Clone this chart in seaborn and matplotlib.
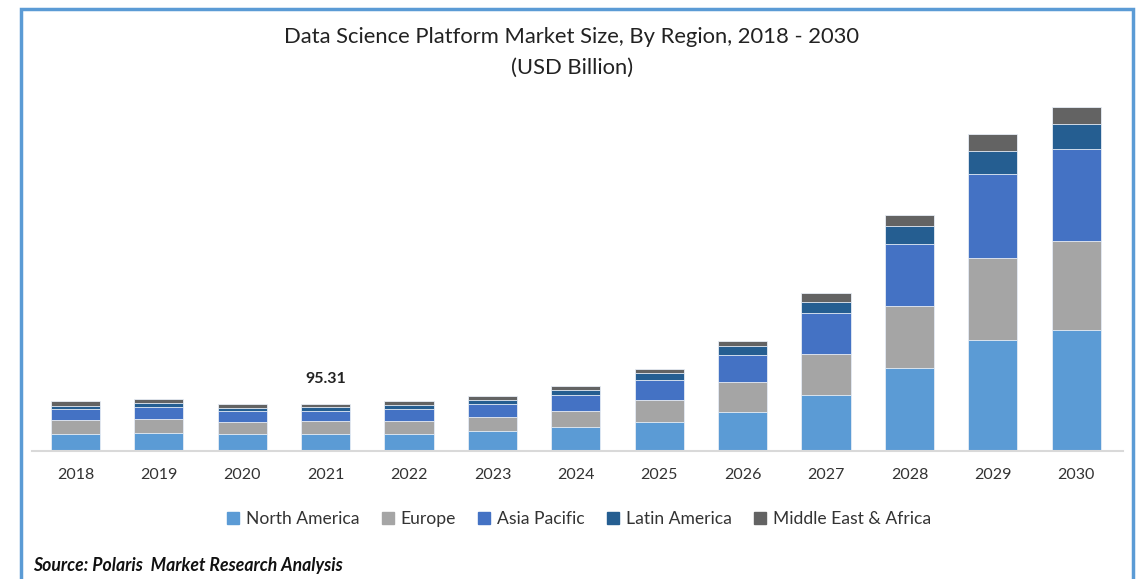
import numpy as np
import pandas as pd
import matplotlib
matplotlib.use('Agg')
import matplotlib.pyplot as plt
import seaborn as sns
from matplotlib.lines import Line2D
import matplotlib.patches as patches

# data, USD billion
years = ['2018', '2019', '2020', '2021', '2022', '2023', '2024',
         '2025', '2026', '2027', '2028', '2029', '2030']
north_america = [34.7, 36.7, 34.7, 34.7, 34.7, 40.2, 48.3, 58.5, 78.9, 113.6, 170.1, 226.4, 246.8]
europe = [29.2, 29.2, 23.9, 26.5, 26.5, 28.6, 33.9, 44.9, 61.2, 85.1, 126.5, 166.7, 181.0]
asia_pacific = [21.2, 23.9, 23.7, 21.0, 23.9, 27.1, 31.4, 42.0, 55.7, 82.2, 125.1, 172.6, 188.3]
latin_america = [7.3, 8.2, 6.1, 8.2, 8.2, 8.2, 10.8, 13.7, 18.4, 23.9, 38.1, 45.7, 51.0]
mea = [9.0, 8.2, 6.9, 4.91, 8.2, 7.5, 8.2, 8.2, 11.0, 18.4, 22.4, 34.7, 34.7]

regions = ['North America', 'Europe', 'Asia Pacific', 'Latin America', 'Middle East & Africa']
colors = ['#5B9BD5', '#A5A5A5', '#4472C4', '#255E91', '#636363']
label_year = '2021'

df = pd.DataFrame({'year': years, 'North America': north_america, 'Europe': europe,
                   'Asia Pacific': asia_pacific, 'Latin America': latin_america,
                   'Middle East & Africa': mea})

sns.set_theme(style='white')
plt.rcParams['font.family'] = ['Lato', 'DejaVu Sans']

W, H = 1144, 579
fig = plt.figure(figsize=(W / 100, H / 100), dpi=100)
ax = fig.add_axes([32 / W, (H - 451) / H, (1123 - 32) / W, (451 - 95) / H])

# stacked bars: draw cumulative totals from the top layer down
cum = df[regions].cumsum(axis=1)
for reg, col in reversed(list(zip(regions, colors))):
    sns.barplot(x=df['year'], y=cum[reg], color=col, saturation=1, width=0.59,
                edgecolor='#e8eef6', linewidth=0.6, ax=ax, zorder=2)

ax.set_xlim(-0.52, 12.56)
ax.set_ylim(0, 726)
ax.set_xlabel('')
ax.set_ylabel('')
ax.set_yticks([])
for s in ['top', 'right', 'left']:
    ax.spines[s].set_visible(False)
ax.spines['bottom'].set_color('#d9d9d9')
ax.spines['bottom'].set_linewidth(1.5)
ax.tick_params(axis='x', length=0, pad=12, labelsize=11.5, labelcolor='#333333')

i = years.index(label_year)
tot = cum.iloc[i][regions[-1]]
ax.annotate('%.2f' % tot, (i, tot), xytext=(0, 18), textcoords='offset points',
            ha='center', va='center', fontsize=11.5, fontweight='bold', color='#222222')

# titles
fig.text(0.5, 1 - 37 / H, 'Data Science Platform Market Size, By Region, 2018 - 2030',
         ha='center', va='center', fontsize=15.8, color='#222222')
fig.text(0.5, 1 - 68 / H, '(USD Billion)', ha='center', va='center', fontsize=15.8, color='#222222')

# legend
handles = [Line2D([0], [0], marker='s', lw=0, color=c, markersize=8, label=r)
           for r, c in zip(regions, colors)]
fig.legend(handles=handles, loc='center', bbox_to_anchor=(579 / W, 1 - 519 / H), ncol=5,
           frameon=False, fontsize=12.6, handlelength=0.7, handletextpad=0.4,
           columnspacing=1.25, labelcolor='#333333')

fig.text(33 / W, 1 - 565 / H, 'Source: Polaris  Market Research Analysis', ha='left', va='center',
         fontsize=12.7, fontweight='bold', fontstyle='italic', color='#111111')

# light blue frame, open at the bottom
frame = patches.Rectangle((20.5 / W, -0.05), (1133 - 20.5) / W, 1.05 - 8.5 / H,
                          transform=fig.transFigure, fill=False, edgecolor='#5B9BD5',
                          linewidth=2.5)
fig.add_artist(frame)

fig.savefig('out.png', dpi=100)
